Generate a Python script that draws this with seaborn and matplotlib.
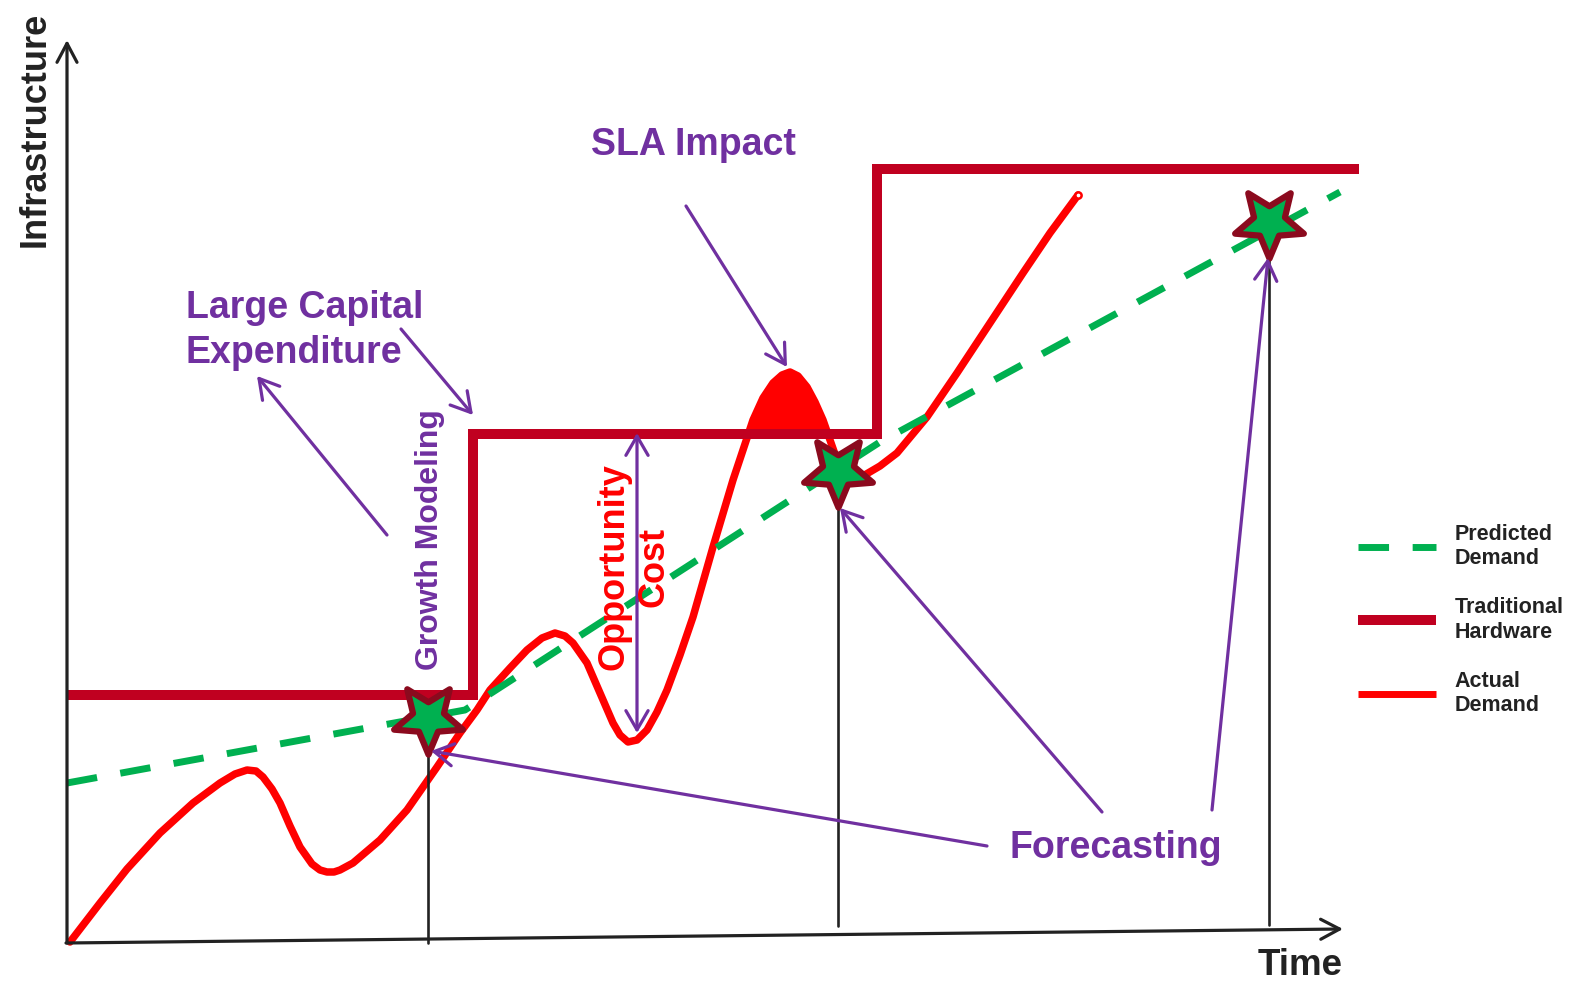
import matplotlib
matplotlib.use("Agg")
import matplotlib.pyplot as plt
from matplotlib.markers import MarkerStyle
from matplotlib.path import Path
from matplotlib.transforms import Affine2D
from matplotlib.lines import Line2D
import numpy as np
import seaborn as sns

sns.set_theme(style="white")
plt.rcParams['font.family'] = ['Liberation Sans', 'DejaVu Sans']

# ---- data (canvas units: time to the right, infrastructure measured from the top) ----
actual_time = [70, 100, 127, 160, 193, 220, 235, 247, 256, 263, 272, 280, 290, 300, 312,
               320, 327, 334, 340, 353, 380, 407, 437, 460, 477, 490, 510, 527, 542, 555,
               565, 573, 587, 600, 613, 620, 628, 637, 647, 657, 667, 680, 693, 713, 733,
               753, 763, 773, 782, 790, 798, 807, 815, 823, 830, 837, 845, 855, 863, 880,
               897, 927, 957, 990, 1023, 1050, 1078]
actual_level = [942, 903, 869, 833, 803, 783, 774, 770, 771, 777, 789, 803, 826, 847, 864,
                870, 872, 872, 870, 863, 840, 810, 767, 733, 710, 690, 668, 650, 638, 633,
                636, 643, 663, 693, 723, 735, 742, 740, 730, 712, 690, 655, 617, 547, 480,
                420, 398, 383, 375, 372, 376, 387, 402, 420, 440, 460, 472, 477, 476, 466,
                453, 417, 373, 323, 273, 233, 195]

predicted_time = [67, 465, 880, 1340]
predicted_level = [783, 710, 442, 192]

hardware_time = [67, 473, 877, 1359]
hardware_level = [695, 434, 169, 169]

forecast_time = [428, 838, 1269]
forecast_level = [718, 471, 222]
forecast_base = [943, 926, 925]

series_labels = ["Predicted\nDemand", "Traditional\nHardware", "Actual\nDemand"]

# ---- colours ----
C_ACTUAL = "#FF0000"
C_HW = "#C00020"
C_PRED = "#00B050"
C_STAR_EDGE = "#8B0A1E"
C_PURPLE = "#7030A0"
C_AXIS = "#222222"

fig = plt.figure(figsize=(15.72, 9.81), dpi=100)
ax = fig.add_axes([0, 0, 1, 1])
ax.set_xlim(0, 1572)
ax.set_ylim(981, 0)
ax.axis("off")

# actual demand
sns.lineplot(x=actual_time, y=actual_level, ax=ax, color=C_ACTUAL, linewidth=5.4,
             estimator=None, sort=False, zorder=3, solid_capstyle="round",
             solid_joinstyle="round")
act = np.array(actual_level, dtype=float)
# capacity in force at each moment (step function of the hardware series)
idx = np.searchsorted(hardware_time, actual_time, side="right") - 1
capacity = np.array(hardware_level, dtype=float)[np.clip(idx, 0, len(hardware_level) - 1)]
ax.fill_between(actual_time, act, capacity, where=act < capacity,
                interpolate=True, color=C_ACTUAL, linewidth=0, zorder=3)
ax.plot(actual_time[-1:], actual_level[-1:], marker="o", ms=4.5, mfc="white",
        mec=C_ACTUAL, mew=1.8, zorder=4)

# traditional hardware
sns.lineplot(x=hardware_time, y=hardware_level, ax=ax, color=C_HW, linewidth=7.2,
             estimator=None, sort=False, drawstyle="steps-post", zorder=4,
             solid_joinstyle="miter", solid_capstyle="butt")

# predicted demand
sns.lineplot(x=predicted_time, y=predicted_level, ax=ax, color=C_PRED, linewidth=5,
             estimator=None, sort=False, linestyle=(0, (4.4, 3.4)), zorder=5)

# drop lines from forecast points to the time axis
for t, lv, b in zip(forecast_time, forecast_level, forecast_base):
    ax.plot([t, t], [lv, b], color=C_AXIS, linewidth=1.9, zorder=6)

# forecast stars (pointing down)
star_path = Path.unit_regular_star(5, 0.45).transformed(Affine2D().rotate_deg(180))
star = MarkerStyle(star_path, joinstyle="miter")
sns.scatterplot(x=forecast_time, y=forecast_level, ax=ax, marker=star, s=52 ** 2,
                color=C_PRED, edgecolor=C_STAR_EDGE, linewidth=4.5, zorder=7)

# axes arrows
axis_arrow = dict(arrowstyle="->,head_length=0.68,head_width=0.36", lw=2.3,
                  color=C_AXIS, mutation_scale=20, shrinkA=0, shrinkB=0)
ax.annotate("", xy=(67, 40), xytext=(67, 943), arrowprops=axis_arrow, zorder=8)
ax.annotate("", xy=(1343, 929), xytext=(66, 943), arrowprops=axis_arrow, zorder=8)
ax.text(35, 129, "Infrastructure", rotation=90, ha="center", va="center",
        fontsize=26, weight="bold", color=C_AXIS)
ax.text(1300, 975, "Time", ha="center", va="baseline", fontsize=26.5,
        weight="bold", color=C_AXIS)

# purple annotation arrows
parrow = dict(arrowstyle="->,head_length=0.69,head_width=0.4", lw=2.3,
              color=C_PURPLE, mutation_scale=20, shrinkA=0, shrinkB=0)
arrows = [((686, 206), (787, 367)),
          ((401, 329), (473, 415)),
          ((387, 535), (257, 376)),
          ((987, 846), (431, 751)),
          ((1102, 812), (840, 508)),
          ((1212, 810), (1268, 258))]
for tail, head in arrows:
    ax.annotate("", xy=head, xytext=tail, arrowprops=parrow, zorder=9)
darrow = dict(parrow)
darrow["arrowstyle"] = "<->,head_length=0.69,head_width=0.4"
ax.annotate("", xy=(637, 433), xytext=(637, 733), arrowprops=darrow, zorder=9)

# texts
ax.text(693, 155, "SLA Impact", ha="center", va="baseline", fontsize=27,
        weight="bold", color=C_PURPLE, zorder=10)
ax.text(186, 318, "Large Capital", ha="left", va="baseline", fontsize=27,
        weight="bold", color=C_PURPLE, zorder=10)
ax.text(186, 363, "Expenditure", ha="left", va="baseline", fontsize=27,
        weight="bold", color=C_PURPLE, zorder=10)
ax.text(1010, 858, "Forecasting", ha="left", va="baseline", fontsize=27,
        weight="bold", color=C_PURPLE, zorder=10)
ax.text(430, 540, "Growth Modeling", rotation=90, ha="center", va="center",
        fontsize=23, weight="bold", color=C_PURPLE, zorder=10)
ax.text(634, 567, "Opportunity\nCost", rotation=90, ha="center", va="center",
        multialignment="center", fontsize=26, weight="bold", color=C_ACTUAL,
        linespacing=1.2, zorder=10)

# legend
handles = [Line2D([], [], color=C_PRED, lw=5, linestyle=(0, (4.4, 3.4))),
           Line2D([], [], color=C_HW, lw=7.2, solid_capstyle="butt"),
           Line2D([], [], color=C_ACTUAL, lw=5, solid_capstyle="butt")]
leg = ax.legend(handles, series_labels, loc="center left",
                bbox_to_anchor=(1358 / 1572, 1 - 620 / 981), frameon=False,
                prop={"weight": "bold", "size": 15.5}, labelcolor=C_AXIS,
                handlelength=3.6, handletextpad=0.9, labelspacing=1.3,
                borderpad=0, borderaxespad=0)

fig.savefig("out.png", dpi=100)
